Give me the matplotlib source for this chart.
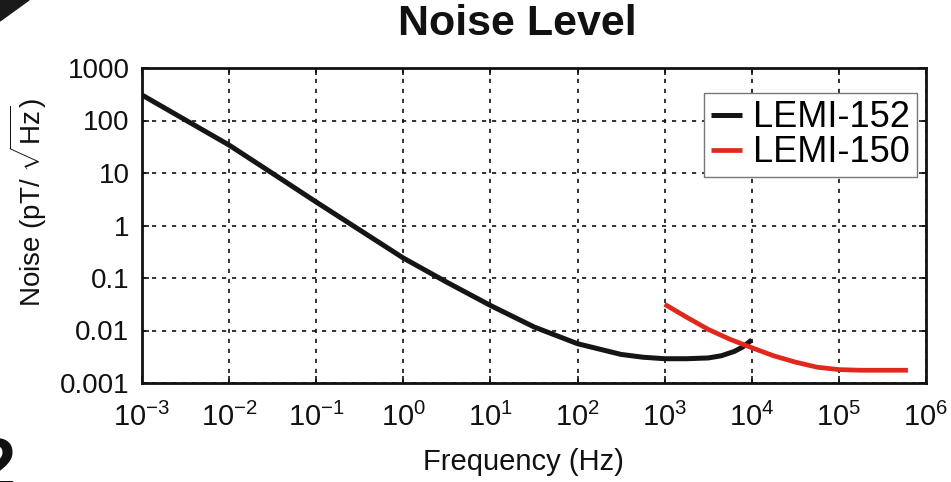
import numpy as np
import matplotlib
matplotlib.use("Agg")
import matplotlib.pyplot as plt
from matplotlib.patches import Polygon

plt.rcParams['font.family'] = ['Liberation Sans', 'DejaVu Sans']
plt.rcParams['mathtext.fontset'] = 'custom'
plt.rcParams['mathtext.rm'] = 'Liberation Sans'
plt.rcParams['mathtext.it'] = 'Liberation Sans:italic'

# ---- data ----
freq_152 = [1e-3, 10**-2.5, 1e-2, 10**-1.5, 1e-1, 10**-0.5, 1e0, 10**0.5, 1e1,
            10**1.5, 1e2, 10**2.5, 10**2.75, 1e3, 10**3.25, 10**3.5, 10**3.65,
            10**3.8, 10**3.9, 1e4]
noise_152 = [306, 102, 34, 9.8, 2.8, 0.82, 0.24, 0.083, 0.030,
             0.0117, 0.0056, 0.0035, 0.0031, 0.0029, 0.0029, 0.0030, 0.0033,
             0.0040, 0.0049, 0.0066]

freq_150 = [1e3, 10**3.25, 10**3.5, 10**3.75, 1e4, 10**4.25, 10**4.5, 10**4.75,
            1e5, 10**5.25, 10**5.5, 6.2e5]
noise_150 = [0.0316, 0.018, 0.0105, 0.0068, 0.0047, 0.0033, 0.0025, 0.0020,
             0.0018, 0.00175, 0.00175, 0.00175]

xticks = [1e-3, 1e-2, 1e-1, 1e0, 1e1, 1e2, 1e3, 1e4, 1e5, 1e6]
xticklabels = ['$10^{-3}$', '$10^{-2}$', '$10^{-1}$', '$10^{0}$', '$10^{1}$',
               '$10^{2}$', '$10^{3}$', '$10^{4}$', '$10^{5}$', '$10^{6}$']
yticks = [1e-3, 1e-2, 1e-1, 1, 10, 100, 1000]
yticklabels = ['0.001', '0.01', '0.1', '1', '10', '100', '1000']

fig = plt.figure(figsize=(9.51, 4.82), dpi=100)
ax = fig.add_axes([142/951, 1-383/482, 784/951, 315/482])

ax.plot(freq_152, noise_152, color='#151515', lw=3.6, label='LEMI-152',
        solid_capstyle='butt', zorder=3)
ax.plot(freq_150, noise_150, color='#e0281c', lw=3.4, label='LEMI-150',
        solid_capstyle='butt', zorder=3)

ax.set_xscale('log')
ax.set_yscale('log')
ax.set_xlim(1e-3, 1e6)
ax.set_ylim(1e-3, 1e3)
ax.set_xticks(xticks)
ax.set_xticklabels(xticklabels)
ax.set_yticks(yticks)
ax.set_yticklabels(yticklabels)
ax.minorticks_off()
ax.tick_params(axis='both', direction='in', length=5, width=1.2, labelsize=20,
               top=True, right=True, colors='#111111')
ax.tick_params(axis='x', pad=14, labelsize=21)
ax.tick_params(axis='y', pad=9)
ax.grid(True, color='#111111', lw=1.2, linestyle=(0, (2.5, 3.5)))
for s in ax.spines.values():
    s.set_linewidth(2.0)
    s.set_color('#111111')

leg = ax.legend(loc='upper right', bbox_to_anchor=(0.9885, 0.9206), fontsize=26,
                fancybox=False, framealpha=1, edgecolor='#777777',
                handlelength=0.85, handletextpad=0.3, labelspacing=0.0,
                borderpad=0.2, borderaxespad=0)
leg.get_frame().set_linewidth(1.0)

fig.text(517/951, 1-24/482, 'Noise Level', fontsize=31, fontweight='bold',
         ha='center', va='center', color='#111111')
fig.text(523/951, 1-462/482, 'Frequency (Hz)', fontsize=21, ha='center',
         va='center', color='#111111')
fig.text(28/951, 1-202/482, r'Noise (pT/ $\sqrt{\mathrm{Hz}}$)', fontsize=20,
         rotation=90, ha='center', va='center', color='#111111')

# scan leftovers around the chart
fig.patches.append(Polygon([[0, 1], [29/951, 1], [0, 1-21/482]], closed=True,
                           transform=fig.transFigure, color='#1a1a1a'))
fig.text(16/951, -0.015, '2', fontsize=52, fontweight='bold', ha='right',
         va='baseline', color='#111111')

fig.savefig('out.png', dpi=100)
